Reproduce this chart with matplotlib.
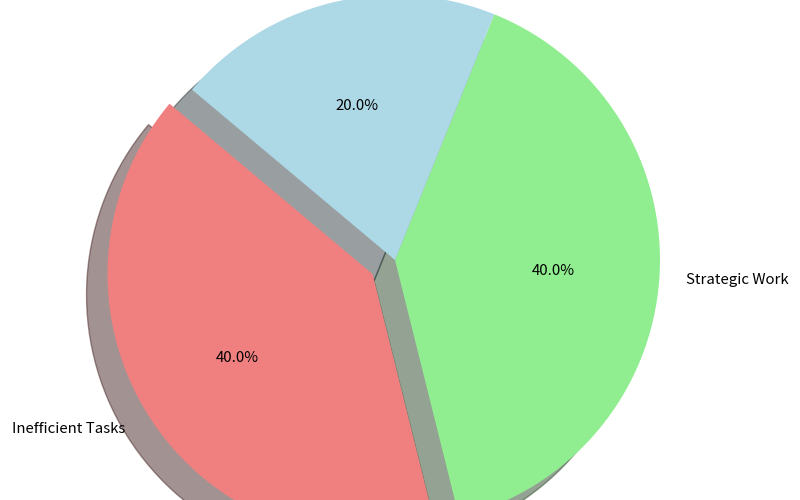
import matplotlib
matplotlib.use("Agg")
import matplotlib.pyplot as plt

plt.rcParams["font.family"] = ["Noto Sans CJK JP", "DejaVu Sans"]

# 데이터
labels = ["Inefficient Tasks", "Strategic Work", "Meetings"]
sizes = [40, 40, 20]
colors = ["lightcoral", "lightgreen", "lightblue"]
explode = [0.1, 0, 0]

fig = plt.figure(figsize=(8, 5), dpi=100)
ax = fig.add_axes([0, 0, 1, 1])

ax.pie(sizes, labels=labels, colors=colors, explode=explode,
       autopct="%1.1f%%", startangle=140,
       shadow={"ox": -0.057, "oy": -0.057},
       textprops={"fontsize": 10.8})

# 원 중심 (395, 260) px, 반지름 265 px
r_px = 265.0
ax.set_aspect("auto")
ax.set_xlim(-395 / r_px, 405 / r_px)
ax.set_ylim(-240 / r_px, 260 / r_px)

fig.savefig("out.png", dpi=100)
